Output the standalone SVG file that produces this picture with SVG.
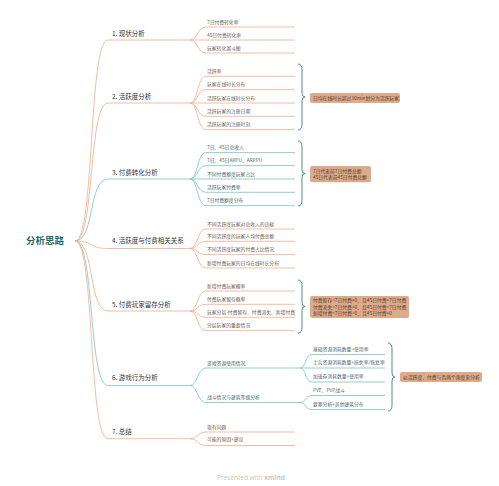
<svg xmlns="http://www.w3.org/2000/svg" width="499" height="486" viewBox="0 0 499 486">
<style>
text{font-family:"Noto Sans CJK SC","Liberation Sans",sans-serif}
.root{font-size:9.5px;font-weight:bold;fill:#1f6b6b}
.br{font-size:6.5px;fill:#333}
.ch{font-size:4.8px;fill:#6e5a52}
.cht{font-size:4.8px;fill:#4a6868}
.sm{font-size:4.8px;fill:#5b3b2b}
.box{fill:#dcab8c}
.lp{fill:none;stroke:#f0b49a;stroke-width:0.9}
.lt{fill:none;stroke:#88c9c6;stroke-width:0.9}
.brace{fill:none;stroke:#3f7f7e;stroke-width:0.9}
.foot{font-family:"Open Sans","Liberation Sans",sans-serif;font-size:6.5px;fill:#c8c8c8}
</style>
<rect width="499" height="486" fill="#fff"/>
<g id="connectors">
<!-- root to branches -->
<path class="lp" d="M75,241 C95,241 88,40 108,40 L190,40"/>
<path class="lp" d="M75,241 C95,241 88,103 108,103 L190,103"/>
<path class="lt" d="M75,241 C95,241 88,179 108,179 L190,179"/>
<path class="lp" d="M75,241 C95,241 88,248.5 108,248.5 L190,248.5"/>
<path class="lp" d="M75,241 C95,241 88,311 108,311 L190,311"/>
<path class="lt" d="M75,241 C95,241 88,385.5 108,385.5 L190,385.5"/>
<path class="lp" d="M75,241 C95,241 88,438.7 108,438.7 L190,438.7"/>
<!-- branch 1 children -->
<path class="lp" d="M190,40 C198,40 197,27 206,27 L295,27"/>
<path class="lp" d="M190,40 L295,40"/>
<path class="lp" d="M190,40 C198,40 197,53 206,53 L295,53"/>
<!-- branch 2 children -->
<path class="lp" d="M190,103 C198,103 197,76.3 206,76.3 L295,76.3"/>
<path class="lp" d="M190,103 C198,103 197,89.6 206,89.6 L295,89.6"/>
<path class="lp" d="M190,103 L295,103"/>
<path class="lp" d="M190,103 C198,103 197,116.3 206,116.3 L295,116.3"/>
<path class="lp" d="M190,103 C198,103 197,129.6 206,129.6 L295,129.6"/>
<!-- branch 3 children -->
<path class="lt" d="M190,179 C198,179 197,152.6 206,152.6 L295,152.6"/>
<path class="lt" d="M190,179 C198,179 197,165.6 206,165.6 L295,165.6"/>
<path class="lt" d="M190,179 L295,179"/>
<path class="lt" d="M190,179 C198,179 197,192.3 206,192.3 L295,192.3"/>
<path class="lt" d="M190,179 C198,179 197,205.6 206,205.6 L295,205.6"/>
<!-- branch 4 children -->
<path class="lp" d="M190,248.5 C198,248.5 197,229 206,229 L295,229"/>
<path class="lp" d="M190,248.5 C198,248.5 197,241.3 206,241.3 L295,241.3"/>
<path class="lp" d="M190,248.5 C198,248.5 197,254.6 206,254.6 L295,254.6"/>
<path class="lp" d="M190,248.5 C198,248.5 197,268 206,268 L295,268"/>
<!-- branch 5 children -->
<path class="lp" d="M190,311 C198,311 197,291 206,291 L295,291"/>
<path class="lp" d="M190,311 C198,311 197,304.3 206,304.3 L295,304.3"/>
<path class="lp" d="M190,311 C198,311 197,317.3 206,317.3 L295,317.3"/>
<path class="lp" d="M190,311 C198,311 197,330.6 206,330.6 L295,330.6"/>
<!-- branch 6 children -->
<path class="lt" d="M190,385.5 C198,385.5 197,368 206,368 L300,368"/>
<path class="lt" d="M190,385.5 C198,385.5 197,402.5 206,402.5 L300,402.5"/>
<path class="lt" d="M300,368 C306,368 305,354.5 312,354.5 L385,354.5"/>
<path class="lt" d="M300,368 L385,368"/>
<path class="lt" d="M300,368 C306,368 305,382 312,382 L385,382"/>
<path class="lt" d="M300,402.5 C306,402.5 305,395.5 312,395.5 L385,395.5"/>
<path class="lt" d="M300,402.5 C306,402.5 305,409.5 312,409.5 L385,409.5"/>
<!-- branch 7 children -->
<path class="lp" d="M190,438.7 C198,438.7 197,432 206,432 L295,432"/>
<path class="lp" d="M190,438.7 C198,438.7 197,445.5 206,445.5 L295,445.5"/>
<!-- braces -->
<path class="brace" d="M298,64 Q302,64 302,70 L302,93 Q302,97 305,97 Q302,97 302,101 L302,124 Q302,130 298,130"/>
<path class="brace" d="M298,141 Q302,141 302,147 L302,169.5 Q302,173.5 305,173.5 Q302,173.5 302,177.5 L302,200 Q302,206 298,206"/>
<path class="brace" d="M298,280 Q302,280 302,286 L302,302.5 Q302,306.5 305,306.5 Q302,306.5 302,310.5 L302,327 Q302,333 298,333"/>
<path class="brace" d="M388,343 Q392,343 392,349 L392,373 Q392,377 395,377 Q392,377 392,381 L392,405 Q392,411 388,411"/>
</g>
<g id="root"><text class="root" x="26" y="244">分析思路</text></g>
<g id="b1"><text class="br" x="112" y="35.6">1. 现状分析</text></g>
<g id="b1c1"><text class="ch" x="207" y="23.5">7日付费转化率</text></g>
<g id="b1c2"><text class="ch" x="207" y="36.5">45日付费转化率</text></g>
<g id="b1c3"><text class="ch" x="207" y="49.5">玩家转化漏斗图</text></g>
<g id="b2"><text class="br" x="112" y="98.5">2. 活跃度分析</text></g>
<g id="b2c1"><text class="ch" x="207" y="72.8">活跃率</text></g>
<g id="b2c2"><text class="ch" x="207" y="86.1">玩家在线时长分布</text></g>
<g id="b2c3"><text class="ch" x="207" y="99.5">活跃玩家在线时长分布</text></g>
<g id="b2c4"><text class="ch" x="207" y="112.8">活跃玩家的注册日期</text></g>
<g id="b2c5"><text class="ch" x="207" y="126.1">活跃玩家的注册时刻</text></g>
<g id="s2"><rect class="box" x="310" y="93" width="90" height="10" rx="2"/><text class="sm" x="313" y="99.7">日均在线时长超过10min划分为活跃玩家</text></g>
<g id="b3"><text class="br" x="112" y="174.6">3. 付费转化分析</text></g>
<g id="b3c1"><text class="cht" x="207" y="149.1">7日、45日总收入</text></g>
<g id="b3c2"><text class="cht" x="207" y="162.1">7日、45日ARPU、ARPPU</text></g>
<g id="b3c3"><text class="cht" x="207" y="175.5">不同付费额度玩家占比</text></g>
<g id="b3c4"><text class="cht" x="207" y="188.8">活跃玩家付费率</text></g>
<g id="b3c5"><text class="cht" x="207" y="202.1">7日付费额度分布</text></g>
<g id="s3"><rect class="box" x="310" y="166" width="61" height="16.3" rx="2"/><text class="sm" x="313" y="172.5">7日代表前7日付费总额</text><text class="sm" x="313" y="179">45日代表前45日付费总额</text></g>
<g id="b4"><text class="br" x="112" y="243">4. 活跃度与付费相关关系</text></g>
<g id="b4c1"><text class="ch" x="207" y="225.5">不同活跃度玩家对总收入的贡献</text></g>
<g id="b4c2"><text class="ch" x="207" y="237.8">不同活跃度的玩家人均付费金额</text></g>
<g id="b4c3"><text class="ch" x="207" y="251.1">不同活跃度玩家的付费占比情况</text></g>
<g id="b4c4"><text class="ch" x="207" y="264.8">新增付费玩家的日均在线时长分布</text></g>
<g id="b5"><text class="br" x="112" y="306.6">5. 付费玩家留存分析</text></g>
<g id="b5c1"><text class="ch" x="207" y="287.5">新增付费玩家概率</text></g>
<g id="b5c2"><text class="ch" x="207" y="300.8">付费玩家留存概率</text></g>
<g id="b5c3"><text class="ch" x="207" y="313.8">玩家分层-付费留存、付费流失、新增付费</text></g>
<g id="b5c4"><text class="ch" x="207" y="327.1">分层玩家的重要情况</text></g>
<g id="s5"><rect class="box" x="310" y="296" width="99" height="22" rx="2"/><text class="sm" x="313" y="302.3">付费留存=7日付费&gt;0、且45日付费&gt;7日付费</text><text class="sm" x="313" y="308.8">付费流失=7日付费&gt;0、且45日付费=7日付费</text><text class="sm" x="313" y="315.3">新增付费=7日付费=0、且45日付费&gt;0</text></g>
<g id="b6"><text class="br" x="112" y="380">6. 游戏行为分析</text></g>
<g id="b6c1"><text class="cht" x="207" y="365.1">游戏资源使用情况</text></g>
<g id="b6c2"><text class="cht" x="207" y="399.1">战斗情况与建筑等级分析</text></g>
<g id="b6g1"><text class="cht" x="313" y="350.8">基础资源消耗数量+使用率</text></g>
<g id="b6g2"><text class="cht" x="313" y="364.3">士兵资源消耗数量+损失率/恢复率</text></g>
<g id="b6g3"><text class="cht" x="313" y="378.3">加速券消耗数量+使用率</text></g>
<g id="b6g4"><text class="cht" x="313" y="391.8">PVE、PVP战斗</text></g>
<g id="b6g5"><text class="cht" x="313" y="405.8">要塞分析+其他建筑分布</text></g>
<g id="s6"><rect class="box" x="400" y="372" width="82" height="10" rx="2"/><text class="sm" x="403" y="378.7">以活跃度、付费与否两个角度来分析</text></g>
<g id="b7"><text class="br" x="112" y="434">7. 总结</text></g>
<g id="b7c1"><text class="ch" x="207" y="428.5">现有问题</text></g>
<g id="b7c2"><text class="ch" x="207" y="441.1">可能的原因+建议</text></g>
<text class="foot" x="217" y="479.5">Presented with <tspan font-weight="bold">xmind</tspan></text>
</svg>
